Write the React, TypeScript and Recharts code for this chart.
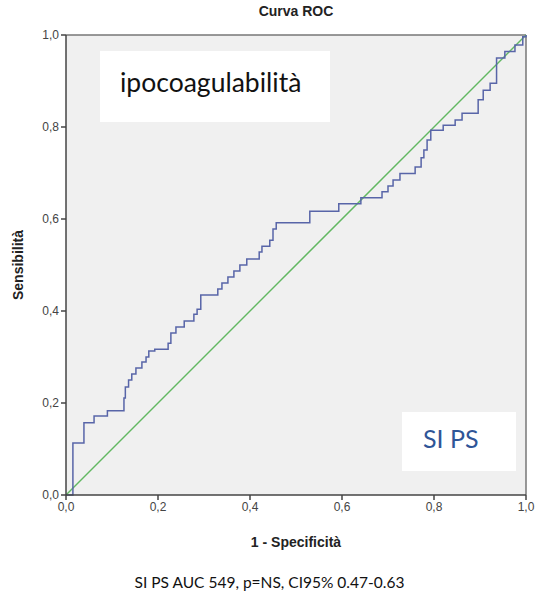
import { LineChart, Line, XAxis, YAxis, CartesianGrid, ReferenceLine } from 'recharts'

// ROC step vertices: false positive rate (1 - specificity) and sensitivity
const fpr = [
  0, 0.015, 0.039, 0.061, 0.09, 0.126, 0.129, 0.136, 0.143, 0.152, 0.165, 0.174, 0.18, 0.193,
  0.222, 0.228, 0.239, 0.257, 0.278, 0.285, 0.293, 0.33, 0.339, 0.352, 0.365, 0.378, 0.393,
  0.42, 0.426, 0.443, 0.45, 0.457, 0.53, 0.593, 0.641, 0.687, 0.7, 0.711, 0.726, 0.759, 0.772,
  0.778, 0.785, 0.793, 0.82, 0.846, 0.861, 0.896, 0.907, 0.922, 0.936, 0.954, 0.976, 0.993, 1,
]
const tpr = [
  0, 0.113, 0.157, 0.172, 0.183, 0.211, 0.235, 0.25, 0.263, 0.276, 0.289, 0.3, 0.313, 0.317,
  0.33, 0.352, 0.365, 0.378, 0.393, 0.404, 0.435, 0.448, 0.461, 0.474, 0.487, 0.5, 0.513,
  0.528, 0.541, 0.554, 0.578, 0.592, 0.617, 0.633, 0.646, 0.659, 0.672, 0.685, 0.699, 0.713,
  0.733, 0.75, 0.772, 0.793, 0.804, 0.815, 0.83, 0.859, 0.88, 0.895, 0.95, 0.964, 0.978, 0.996, 1,
]
const ticks = [0, 0.2, 0.4, 0.6, 0.8, 1]

const rocData = fpr.map((x, i) => ({ fpr: x, tpr: tpr[i] }))

const fmt = (v: number) => v.toFixed(1).replace('.', ',')

const axisFont = "'Liberation Sans', Arial, sans-serif"
const boxFont = "Lato, 'Open Sans', sans-serif"

export default function App() {
  return (
    <div style={{ position: 'absolute', left: 0, top: 0, width: 539, height: 600, background: '#fff' }}>
      <div
        style={{
          position: 'absolute',
          left: 66,
          width: 460,
          top: 3,
          textAlign: 'center',
          fontFamily: axisFont,
          fontWeight: 'bold',
          fontSize: 14,
          color: '#222',
        }}
      >
        Curva ROC
      </div>
      <LineChart
        width={539}
        height={600}
        data={rocData}
        margin={{ top: 35, right: 13, bottom: 0, left: 0 }}
      >
        <CartesianGrid horizontal={false} vertical={false} fill='#f0f0f0' />
        <XAxis
          dataKey='fpr'
          type='number'
          domain={[0, 1]}
          ticks={ticks}
          tickFormatter={fmt}
          height={105}
          stroke='#444'
          strokeWidth={1.5}
          tickSize={5}
          tick={{ fill: '#444', fontSize: 12, fontFamily: axisFont }}
          label={{
            value: '1 - Specificità',
            position: 'insideTop',
            offset: 42,
            style: { fontFamily: axisFont, fontWeight: 'bold', fontSize: 14, fill: '#222' },
          }}
        />
        <YAxis
          type='number'
          domain={[0, 1]}
          ticks={ticks}
          tickFormatter={fmt}
          width={66}
          stroke='#444'
          strokeWidth={1.5}
          tickSize={5}
          tick={{ fill: '#444', fontSize: 12, fontFamily: axisFont }}
          label={{
            value: 'Sensibilità',
            angle: -90,
            position: 'insideLeft',
            offset: 18,
            style: {
              fontFamily: axisFont,
              fontWeight: 'bold',
              fontSize: 14,
              fill: '#222',
              textAnchor: 'middle',
            },
          }}
        />
        <ReferenceLine y={1} stroke='#777' strokeWidth={1.5} />
        <ReferenceLine x={1} stroke='#777' strokeWidth={1.5} />
        <ReferenceLine
          segment={[
            { x: 0, y: 0 },
            { x: 1, y: 1 },
          ]}
          stroke='#62b862'
          strokeWidth={1.5}
        />
        <Line
          dataKey='tpr'
          type='stepAfter'
          stroke='#5865a8'
          strokeWidth={1.5}
          dot={false}
          isAnimationActive={false}
        />
      </LineChart>
      <div
        style={{
          position: 'absolute',
          left: 100,
          top: 51,
          width: 230,
          height: 71,
          background: '#fff',
          boxSizing: 'border-box',
          paddingLeft: 20,
          paddingTop: 15,
          fontFamily: boxFont,
          fontSize: 26.5,
          color: '#111',
        }}
      >
        ipocoagulabilità
      </div>
      <div
        style={{
          position: 'absolute',
          left: 402,
          top: 412,
          width: 114,
          height: 59,
          background: '#fff',
          boxSizing: 'border-box',
          paddingLeft: 21,
          paddingTop: 11,
          fontFamily: boxFont,
          fontSize: 25,
          color: '#2f5597',
        }}
      >
        SI PS
      </div>
      <div
        style={{
          position: 'absolute',
          left: 0,
          width: 539,
          top: 573,
          textAlign: 'center',
          fontFamily: boxFont,
          fontSize: 15.5,
          color: '#111',
        }}
      >
        SI PS AUC 549, p=NS, CI95% 0.47-0.63
      </div>
    </div>
  )
}
